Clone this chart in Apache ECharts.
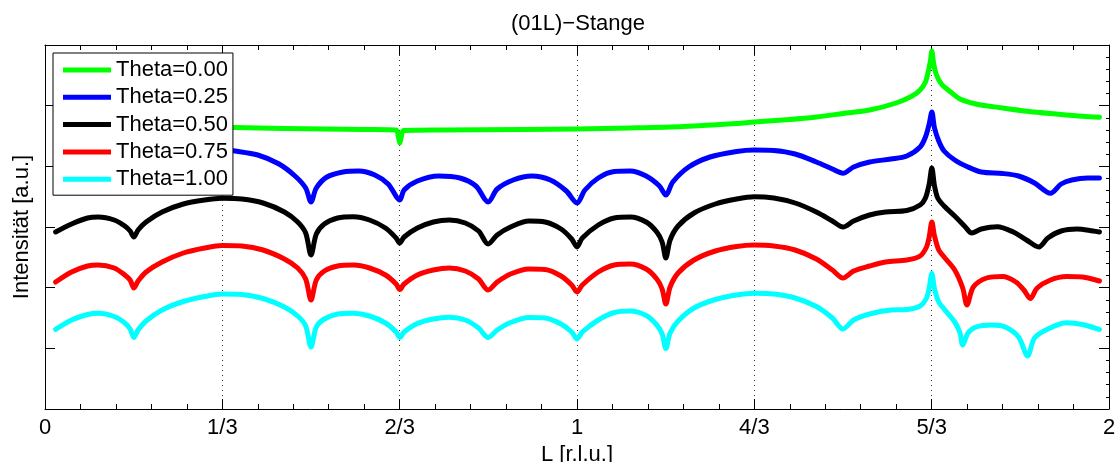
<!DOCTYPE html>
<html>
<head>
<meta charset="utf-8">
<title>(01L)-Stange</title>
<script src="https://cdn.jsdelivr.net/npm/echarts@6/dist/echarts.min.js"></script>
<style>
  html, body { margin: 0; padding: 0; background: #fff; }
  #chart { width: 1116px; height: 462px; }
</style>
</head>
<body>
<div id="chart"></div>
<script>
// tick labels of the L axis (multiples of 1/3)
const xTickLabels = ['0', '1/3', '2/3', '1', '4/3', '5/3', '2']
const seriesNames = ['Theta=0.00', 'Theta=0.25', 'Theta=0.50', 'Theta=0.75', 'Theta=1.00']
const seriesColors = ['#00ff00', '#0000ff', '#000000', '#ff0000', '#00ffff']

// [L, intensity (a.u.)]
const theta000 = [
  [0.02, 283], [0.1, 282.5], [0.2, 282], [0.357, 281.5], [0.45, 280.5], [0.6, 279.5],
  [0.66, 279], [0.664, 273], [0.667, 266], [0.67, 273], [0.674, 278.5], [0.75, 279],
  [0.9, 279.5], [1.0, 280], [1.1, 281], [1.2, 282.5], [1.3, 285.5], [1.333, 287],
  [1.4, 289.5], [1.45, 292], [1.5, 295.5], [1.55, 299], [1.6, 306], [1.63, 313],
  [1.645, 319], [1.655, 327], [1.66, 337], [1.664, 347], [1.667, 358], [1.67, 347],
  [1.675, 335], [1.685, 325], [1.7, 318], [1.72, 310], [1.75, 305], [1.8, 301],
  [1.85, 297.5], [1.9, 295], [1.95, 292.7], [1.982, 291.7]
]
const theta025 = [
  [0.02, 246], [0.06, 257], [0.1, 260], [0.14, 254], [0.167, 239], [0.19, 251],
  [0.24, 259], [0.3, 262], [0.357, 258], [0.4, 254], [0.44, 245], [0.47, 233],
  [0.49, 221], [0.5, 207], [0.51, 221], [0.53, 232], [0.56, 237], [0.59, 238],
  [0.62, 234], [0.645, 225], [0.667, 209], [0.675, 219], [0.7, 228], [0.74, 233],
  [0.78, 231], [0.81, 223], [0.833, 207], [0.85, 220], [0.88, 229], [0.915, 233],
  [0.95, 229], [0.98, 218], [1.0, 206], [1.015, 219], [1.04, 231], [1.07, 237.5],
  [1.1, 238], [1.13, 233], [1.155, 223], [1.167, 214], [1.18, 227], [1.21, 242],
  [1.25, 252], [1.3, 257.5], [1.333, 259], [1.37, 258.5], [1.41, 255], [1.45, 247],
  [1.48, 240], [1.5, 235.7], [1.52, 242], [1.55, 247], [1.59, 250], [1.62, 253],
  [1.645, 262], [1.655, 272], [1.662, 285], [1.667, 297], [1.672, 281], [1.68, 268],
  [1.69, 258], [1.71, 249], [1.735, 242], [1.76, 237], [1.8, 235.5], [1.83, 233],
  [1.86, 226], [1.89, 215.7], [1.91, 225], [1.93, 229], [1.96, 231], [1.982, 231]
]
const theta050 = [
  [0.02, 177], [0.05, 185], [0.08, 191], [0.1, 192], [0.13, 189], [0.15, 183],
  [0.16, 178], [0.167, 172], [0.175, 179], [0.19, 187], [0.22, 197], [0.26, 205],
  [0.3, 209], [0.333, 210.7], [0.37, 210], [0.41, 206], [0.45, 197], [0.475, 187],
  [0.49, 176], [0.5, 154], [0.51, 175], [0.525, 185], [0.55, 191], [0.58, 192.3],
  [0.61, 189], [0.64, 181], [0.66, 171], [0.667, 166], [0.675, 172], [0.7, 181],
  [0.73, 187], [0.76, 189], [0.79, 186], [0.815, 178], [0.833, 165], [0.85, 174],
  [0.875, 182], [0.91, 188], [0.94, 187], [0.97, 180], [0.99, 170], [1.0, 162],
  [1.01, 171], [1.04, 184], [1.07, 191], [1.1, 192], [1.13, 187], [1.15, 177],
  [1.16, 167], [1.167, 151], [1.175, 169], [1.19, 183], [1.22, 196], [1.26, 205],
  [1.3, 210], [1.333, 212.3], [1.37, 211], [1.41, 206], [1.45, 197], [1.48, 188],
  [1.5, 182], [1.52, 188], [1.55, 194], [1.58, 197], [1.62, 198.5], [1.645, 204],
  [1.655, 211], [1.662, 225], [1.667, 241], [1.672, 223], [1.678, 211], [1.69, 203],
  [1.71, 193], [1.73, 182], [1.742, 176], [1.76, 180], [1.79, 182.3], [1.82, 177],
  [1.845, 169], [1.868, 162], [1.885, 171], [1.91, 178], [1.94, 180], [1.97, 178],
  [1.982, 177]
]
const theta075 = [
  [0.02, 127], [0.05, 137], [0.08, 143], [0.1, 144], [0.13, 141], [0.15, 134],
  [0.16, 129], [0.167, 121], [0.175, 128], [0.19, 137], [0.22, 147], [0.26, 156],
  [0.3, 161], [0.333, 163.5], [0.37, 163], [0.41, 159], [0.45, 150], [0.475, 141],
  [0.49, 130], [0.5, 109], [0.51, 129], [0.525, 138], [0.55, 143], [0.58, 144],
  [0.61, 141], [0.64, 134], [0.66, 125], [0.667, 119.5], [0.675, 125], [0.7, 134],
  [0.73, 139], [0.76, 141], [0.79, 138], [0.815, 130], [0.833, 119], [0.85, 127],
  [0.875, 135], [0.91, 140], [0.94, 139.5], [0.97, 133], [0.99, 124], [1.0, 117],
  [1.01, 124], [1.04, 137], [1.07, 144], [1.1, 145], [1.13, 140], [1.15, 130],
  [1.16, 120], [1.167, 105], [1.175, 122], [1.19, 136], [1.22, 149], [1.26, 158],
  [1.3, 162.5], [1.333, 164], [1.37, 163], [1.41, 159], [1.45, 150], [1.48, 139],
  [1.5, 131], [1.52, 138], [1.55, 143], [1.58, 147], [1.62, 149], [1.645, 153],
  [1.657, 162], [1.662, 172], [1.667, 187], [1.672, 173], [1.68, 159], [1.69, 152],
  [1.71, 139], [1.725, 121], [1.733, 104], [1.745, 122], [1.77, 131], [1.8, 132.5],
  [1.825, 127], [1.84, 119], [1.852, 110.5], [1.865, 121], [1.89, 129], [1.92, 132.5],
  [1.95, 132], [1.982, 128]
]
const theta100 = [
  [0.02, 79.7], [0.05, 89], [0.08, 94.5], [0.1, 95.7], [0.13, 92.5], [0.15, 86],
  [0.16, 80], [0.167, 71.5], [0.175, 79], [0.19, 88], [0.22, 99], [0.26, 107.5],
  [0.3, 112.5], [0.333, 115], [0.37, 114.5], [0.41, 110.5], [0.45, 102], [0.475, 93],
  [0.49, 83], [0.5, 62], [0.51, 82], [0.525, 90], [0.55, 95], [0.58, 95.7],
  [0.61, 93], [0.64, 86], [0.66, 77], [0.667, 71.5], [0.675, 77], [0.7, 85.5],
  [0.73, 90], [0.76, 91.7], [0.79, 89], [0.815, 81], [0.833, 71.5], [0.85, 79],
  [0.875, 86.5], [0.91, 91.5], [0.94, 91], [0.97, 85], [0.99, 77], [1.0, 70],
  [1.01, 77], [1.04, 89], [1.07, 96.5], [1.1, 98], [1.13, 93.5], [1.15, 84],
  [1.16, 75], [1.167, 60.5], [1.175, 76], [1.19, 88], [1.22, 101], [1.26, 109.5],
  [1.3, 114], [1.333, 115.7], [1.37, 115], [1.41, 111], [1.45, 102.5], [1.48, 91],
  [1.5, 80], [1.52, 89], [1.55, 95], [1.59, 99], [1.62, 99.5], [1.645, 103],
  [1.657, 111], [1.662, 121], [1.667, 135.5], [1.672, 120], [1.68, 107], [1.69, 100],
  [1.71, 87], [1.72, 76], [1.725, 64], [1.735, 76], [1.75, 82], [1.78, 84],
  [1.805, 82], [1.83, 72], [1.847, 53], [1.86, 71], [1.885, 80], [1.92, 86.3],
  [1.95, 84.5], [1.982, 79.5]
]
const allData = [theta000, theta025, theta050, theta075, theta100]

const font = 'Liberation Sans, Arial, Helvetica, sans-serif'
const yMax = 364
const yStep = yMax / 6

const chart = echarts.init(document.getElementById('chart'))

// common settings for the boxed x axes (bottom + mirrored top)
function xAxisBase(position) {
  return {
    type: 'value',
    position: position,
    min: 0,
    max: 2,
    interval: 1 / 3,
    axisLine: { show: true, onZero: false, lineStyle: { color: '#000', width: 1 } },
    axisTick: { show: true, inside: true, length: 10, lineStyle: { color: '#000' } },
    minorTick: { show: true, splitNumber: 5, length: 5, lineStyle: { color: '#000' } },
    splitLine: { show: false },
    axisLabel: { show: false }
  }
}
function yAxisBase(position, minor) {
  return {
    type: 'value',
    position: position,
    min: 0,
    max: yMax,
    interval: yStep,
    axisLine: { show: true, onZero: false, lineStyle: { color: '#000', width: 1 } },
    axisTick: { show: true, inside: true, length: 10, lineStyle: { color: '#000' } },
    minorTick: { show: minor, splitNumber: 5, length: 3, lineStyle: { color: '#000' } },
    splitLine: { show: false },
    axisLabel: { show: false }
  }
}

const bottomAxis = xAxisBase('bottom')
bottomAxis.axisLabel = {
  show: true,
  margin: 8,
  fontSize: 22,
  fontFamily: font,
  color: '#000',
  formatter: function (v) {
    return xTickLabels[Math.round(v * 3)]
  }
}
// dotted vertical grid
bottomAxis.splitLine = { show: true, lineStyle: { color: '#333', width: 1, type: [1, 4] } }
bottomAxis.name = 'L [r.l.u.]'
bottomAxis.nameLocation = 'middle'
bottomAxis.nameGap = 30
bottomAxis.nameTextStyle = { fontSize: 22, fontFamily: font, color: '#000' }

const leftAxis = yAxisBase('left', false)
leftAxis.name = 'Intensität [a.u.]'
leftAxis.nameLocation = 'middle'
leftAxis.nameGap = 12
leftAxis.nameTextStyle = { fontSize: 22, fontFamily: font, color: '#000' }

let option = {
  animation: false,
  backgroundColor: '#fff',
  title: {
    text: '(01L)\u2212Stange',
    left: 506,
    top: 8,
    textStyle: { fontSize: 22, fontWeight: 'normal', fontFamily: font, color: '#000' }
  },
  grid: { left: 45, right: 7, top: 45, bottom: 53, containLabel: false, outerBoundsMode: 'none' },
  legend: {
    orient: 'vertical',
    left: 53,
    top: 53,
    data: seriesNames,
    selectedMode: false,
    icon: 'rect',
    backgroundColor: '#fff',
    borderColor: '#000',
    borderWidth: 1,
    borderRadius: 0,
    padding: [6, 5, 5, 10],
    itemWidth: 48,
    itemHeight: 5,
    itemGap: 5.3,
    textStyle: { fontSize: 22, lineHeight: 22, fontFamily: font, color: '#000' }
  },
  xAxis: [bottomAxis, xAxisBase('top')],
  yAxis: [leftAxis, yAxisBase('right', true)],
  series: allData.map(function (d, i) {
    return {
      name: seriesNames[i],
      type: 'line',
      data: d,
      symbol: 'none',
      smooth: 0.3,
      lineStyle: { color: seriesColors[i], width: 5, cap: 'round', join: 'round' },
      itemStyle: { color: seriesColors[i] }
    }
  })
}
chart.setOption(option)
</script>
</body>
</html>
